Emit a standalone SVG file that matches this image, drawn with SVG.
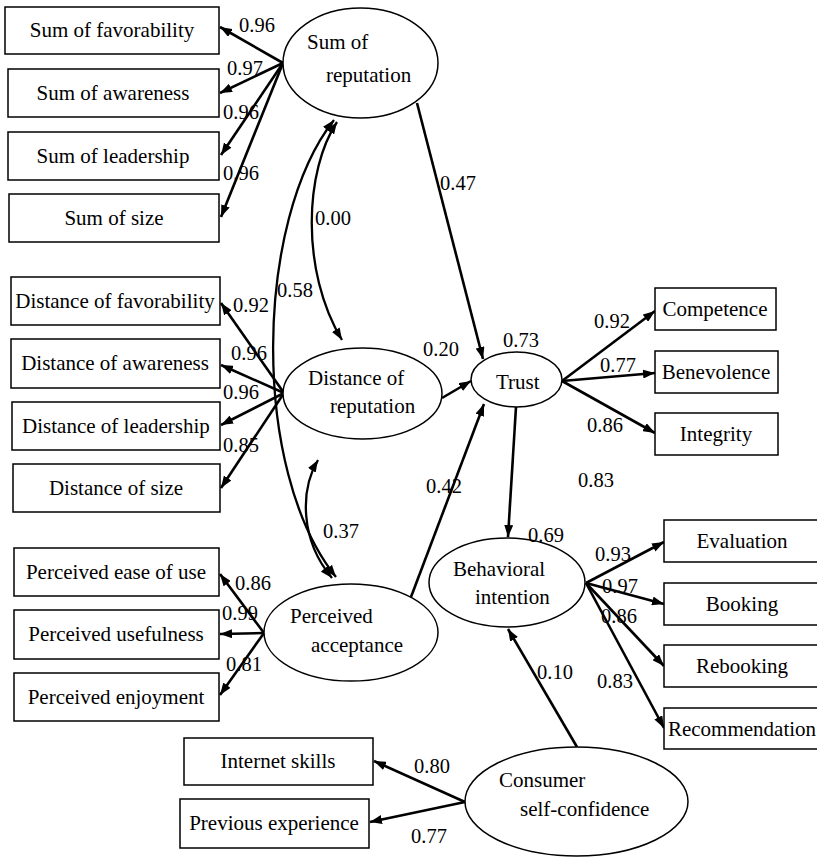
<svg xmlns="http://www.w3.org/2000/svg" width="817" height="857" viewBox="0 0 817 857" font-family="'Liberation Serif', 'DejaVu Serif', 'Times New Roman', serif">
<defs>
<marker id="ah" viewBox="0 0 12 9" refX="12" refY="4.5" markerWidth="12" markerHeight="9" markerUnits="userSpaceOnUse" orient="auto-start-reverse">
<path d="M0,0 L12,4.5 L0,9 z" fill="#000"/>
</marker>
<style>
text{font-family:'Liberation Serif','DejaVu Serif','Times New Roman',serif;font-size:21px;fill:#000}
.box rect{fill:#fff;stroke:#000;stroke-width:1.5}
.box text{text-anchor:middle}
.lat ellipse{fill:#fff;stroke:#000;stroke-width:1.5}
.c line,.c path{stroke:#000;stroke-width:2.6;fill:none;marker-end:url(#ah)}
.c .dbl{stroke-width:2.3;marker-start:url(#ah)}
.num{font-size:20.5px}
</style>
</defs>
<rect width="817" height="857" fill="#fff"/>

<g id="connectors" class="c">
<line x1="283" y1="63" x2="220" y2="27"/>
<line x1="283" y1="63" x2="220" y2="93"/>
<line x1="283" y1="63" x2="221" y2="155"/>
<line x1="283" y1="63" x2="221" y2="217"/>
<line x1="284" y1="393" x2="221" y2="303"/>
<line x1="284" y1="393" x2="221" y2="365"/>
<line x1="284" y1="393" x2="221" y2="425"/>
<line x1="284" y1="393" x2="221" y2="488"/>
<line x1="264" y1="633" x2="220" y2="574"/>
<line x1="264" y1="633" x2="220" y2="634"/>
<line x1="264" y1="633" x2="220" y2="695"/>
<line x1="465" y1="802" x2="374" y2="761"/>
<line x1="465" y1="802" x2="370" y2="822"/>
<line x1="577" y1="747" x2="508" y2="629"/>
<line x1="516" y1="407" x2="508" y2="537"/>
<line x1="417" y1="103" x2="483" y2="359"/>
<line x1="442" y1="398" x2="471" y2="381"/>
<line x1="411" y1="597" x2="484" y2="404"/>
<line x1="562" y1="381" x2="655" y2="311"/>
<line x1="562" y1="381" x2="655" y2="373"/>
<line x1="562" y1="381" x2="655" y2="433"/>
<line x1="586" y1="583" x2="664" y2="542"/>
<line x1="586" y1="583" x2="664" y2="604"/>
<line x1="586" y1="583" x2="664" y2="666"/>
<line x1="586" y1="583" x2="664" y2="728"/>
<path class="dbl" d="M337,122 C305,170 300,270 342,340"/>
<path class="dbl" d="M334,120 C255,220 250,470 336,577"/>
<path class="dbl" d="M318,460 C300,490 300,540 332,578"/>
</g>

<g id="sum-favorability" class="box"><rect x="5" y="7" width="214" height="47"/><text x="112" y="37">Sum of favorability</text></g>
<g id="sum-awareness" class="box"><rect x="8" y="69" width="211" height="48"/><text x="113" y="100">Sum of awareness</text></g>
<g id="sum-leadership" class="box"><rect x="8" y="132" width="211" height="48"/><text x="113" y="163">Sum of leadership</text></g>
<g id="sum-size" class="box"><rect x="9" y="194" width="210" height="48"/><text x="114" y="225">Sum of size</text></g>

<g id="dist-favorability" class="box"><rect x="11" y="277" width="209" height="48"/><text x="115" y="308">Distance of favorability</text></g>
<g id="dist-awareness" class="box"><rect x="11" y="339" width="209" height="49"/><text x="115" y="370">Distance of awareness</text></g>
<g id="dist-leadership" class="box"><rect x="12" y="402" width="208" height="48"/><text x="116" y="433">Distance of leadership</text></g>
<g id="dist-size" class="box"><rect x="13" y="464" width="207" height="48"/><text x="116" y="495">Distance of size</text></g>

<g id="pe-ease" class="box"><rect x="14" y="548" width="205" height="48"/><text x="116" y="579">Perceived ease of use</text></g>
<g id="pe-usefulness" class="box"><rect x="14" y="610" width="205" height="49"/><text x="116" y="641">Perceived usefulness</text></g>
<g id="pe-enjoyment" class="box"><rect x="14" y="673" width="205" height="48"/><text x="116" y="704">Perceived enjoyment</text></g>

<g id="internet-skills" class="box"><rect x="184" y="738" width="189" height="47"/><text x="278" y="768">Internet skills</text></g>
<g id="previous-experience" class="box"><rect x="180" y="799" width="189" height="49"/><text x="274" y="830">Previous experience</text></g>

<g id="competence" class="box"><rect x="655" y="288" width="121" height="42"/><text x="715" y="316">Competence</text></g>
<g id="benevolence" class="box"><rect x="655" y="351" width="123" height="42"/><text x="716" y="379">Benevolence</text></g>
<g id="integrity" class="box"><rect x="655" y="413" width="123" height="42"/><text x="716" y="441">Integrity</text></g>

<g id="evaluation" class="box"><rect x="664" y="520" width="160" height="42"/><text x="742" y="548">Evaluation</text></g>
<g id="booking" class="box"><rect x="664" y="583" width="160" height="42"/><text x="742" y="611">Booking</text></g>
<g id="rebooking" class="box"><rect x="664" y="645" width="160" height="42"/><text x="742" y="673">Rebooking</text></g>
<g id="recommendation" class="box"><rect x="664" y="708" width="160" height="41"/><text x="742" y="736">Recommendation</text></g>

<g id="sum-reputation" class="lat"><ellipse cx="360.5" cy="63" rx="77.5" ry="55"/><text x="307" y="49">Sum of</text><text x="326" y="82">reputation</text></g>
<g id="distance-reputation" class="lat"><ellipse cx="362.5" cy="393.5" rx="79.5" ry="45.5"/><text x="308" y="385">Distance of</text><text x="330" y="413">reputation</text></g>
<g id="trust" class="lat"><ellipse cx="516.5" cy="379.5" rx="45.5" ry="27.5"/><text x="496" y="389">Trust</text></g>
<g id="perceived-acceptance" class="lat"><ellipse cx="351" cy="632.5" rx="87" ry="48.5"/><text x="290" y="623">Perceived</text><text x="311" y="652">acceptance</text></g>
<g id="behavioral-intention" class="lat"><ellipse cx="507" cy="582.5" rx="78" ry="44.5"/><text x="453" y="576">Behavioral</text><text x="475" y="604">intention</text></g>
<g id="consumer-self-confidence" class="lat"><ellipse cx="576.5" cy="801.5" rx="111.5" ry="54.5"/><text x="499" y="787">Consumer</text><text x="520" y="816">self-confidence</text></g>

<g id="labels">
<text class="num" x="239" y="32">0.96</text>
<text class="num" x="227" y="75">0.97</text>
<text class="num" x="223" y="119">0.96</text>
<text class="num" x="223" y="180">0.96</text>
<text class="num" x="315" y="225">0.00</text>
<text class="num" x="277" y="297">0.58</text>
<text class="num" x="440" y="190">0.47</text>
<text class="num" x="233" y="312">0.92</text>
<text class="num" x="231" y="360">0.96</text>
<text class="num" x="223" y="399">0.96</text>
<text class="num" x="223" y="452">0.85</text>
<text class="num" x="423" y="356">0.20</text>
<text class="num" x="503" y="347">0.73</text>
<text class="num" x="594" y="328">0.92</text>
<text class="num" x="600" y="372">0.77</text>
<text class="num" x="587" y="432">0.86</text>
<text class="num" x="578" y="487">0.83</text>
<text class="num" x="426" y="493">0.42</text>
<text class="num" x="323" y="538">0.37</text>
<text class="num" x="528" y="542">0.69</text>
<text class="num" x="235" y="590">0.86</text>
<text class="num" x="222" y="620">0.99</text>
<text class="num" x="226" y="671">0.81</text>
<text class="num" x="595" y="561">0.93</text>
<text class="num" x="602" y="593">0.97</text>
<text class="num" x="601" y="623">0.86</text>
<text class="num" x="597" y="688">0.83</text>
<text class="num" x="537" y="679">0.10</text>
<text class="num" x="414" y="773">0.80</text>
<text class="num" x="411" y="843">0.77</text>
</g>
</svg>
